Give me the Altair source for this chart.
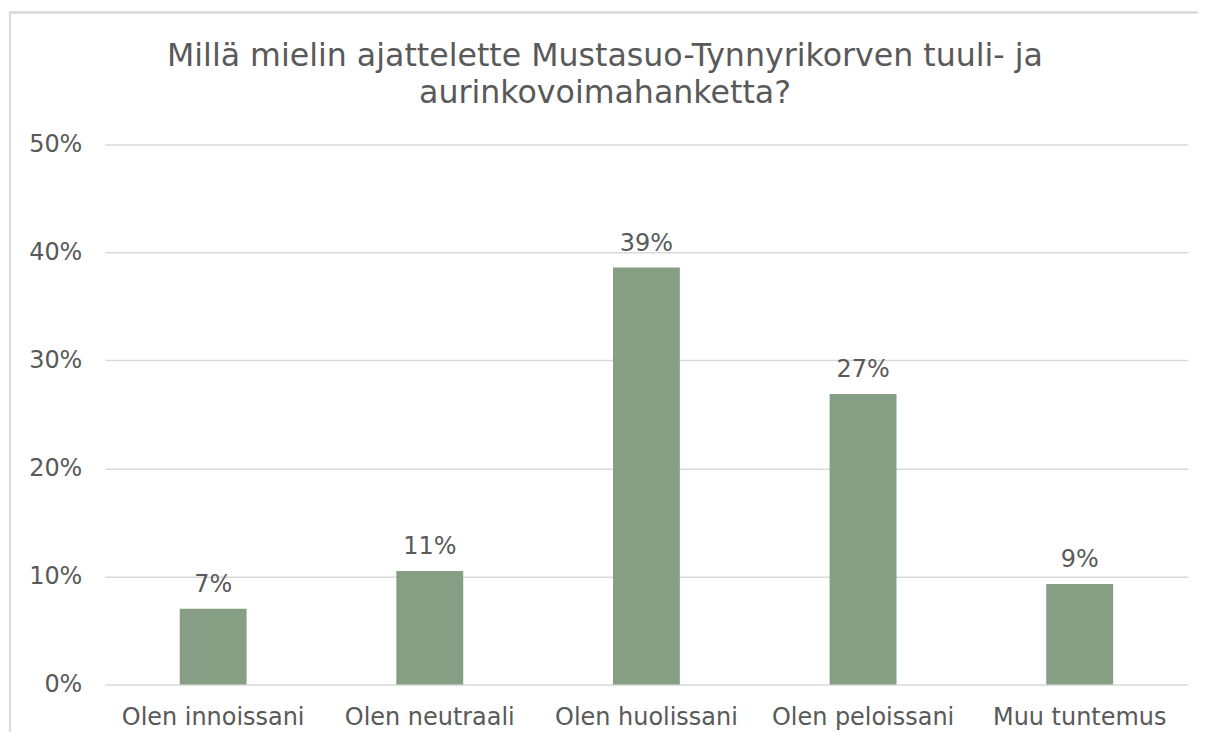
import altair as alt
import pandas as pd

categories = ["Olen innoissani", "Olen neutraali", "Olen huolissani", "Olen peloissani", "Muu tuntemus"]
values = [0.070, 0.105, 0.386, 0.269, 0.093]
y_ticks = [0, 0.1, 0.2, 0.3, 0.4, 0.5]
title_lines = ["Millä mielin ajattelette Mustasuo-Tynnyrikorven tuuli- ja", "aurinkovoimahanketta?"]

df = pd.DataFrame({"cat": categories, "val": values})

FONT = "DejaVu Sans"
GREY = "#595959"

base = alt.Chart(df)

x = alt.X("cat:N", sort=categories, title=None,
          scale=alt.Scale(paddingInner=0, paddingOuter=0),
          axis=alt.Axis(labelAngle=0, ticks=False, domain=False, grid=False, labelPadding=21,
                        labelLimit=400, labelFontSize=24, labelColor=GREY, labelFont=FONT))
y = alt.Y("val:Q", title=None,
          scale=alt.Scale(domain=[0, 0.5], nice=False),
          axis=alt.Axis(values=y_ticks, format=".0%", ticks=False, domain=False,
                        labelPadding=23, labelFontSize=24, labelColor=GREY, labelFont=FONT,
                        gridColor="#d9d9d9", gridWidth=1.5))

bars = base.mark_bar(size=67, color="#869e84").encode(x=x, y=y)
labels = base.mark_text(dy=-17, baseline="alphabetic", fontSize=24, font=FONT, color=GREY).encode(
    x=alt.X("cat:N", sort=categories),
    y="val:Q",
    text=alt.Text("val:Q", format=".0%"))

title_df = pd.DataFrame({"line": title_lines, "pos": [-79, -41]})
title = alt.Chart(title_df).mark_text(fontSize=31.7, font=FONT, color=GREY, baseline="alphabetic",
                                      align="center").encode(
    text="line:N", x=alt.value(501), y=alt.Y("pos:Q", scale=None, axis=None))

border = alt.Chart(title_df).mark_rect(fill=None, stroke="#d9d9d9", strokeWidth=2).encode(
    x=alt.value(-95), x2=alt.value(1120), y=alt.value(-132), y2=alt.value(640))

chart = alt.layer(border, bars, labels, title).properties(
    width=1085, height=541,
    background="white",
    autosize=alt.AutoSizeParams(type="none"),
    padding={"left": 97, "top": 136, "right": 10, "bottom": 47},
).configure_view(strokeWidth=0, stroke="transparent")

chart.save("out.html", embed_options={"renderer": "svg", "actions": False})
